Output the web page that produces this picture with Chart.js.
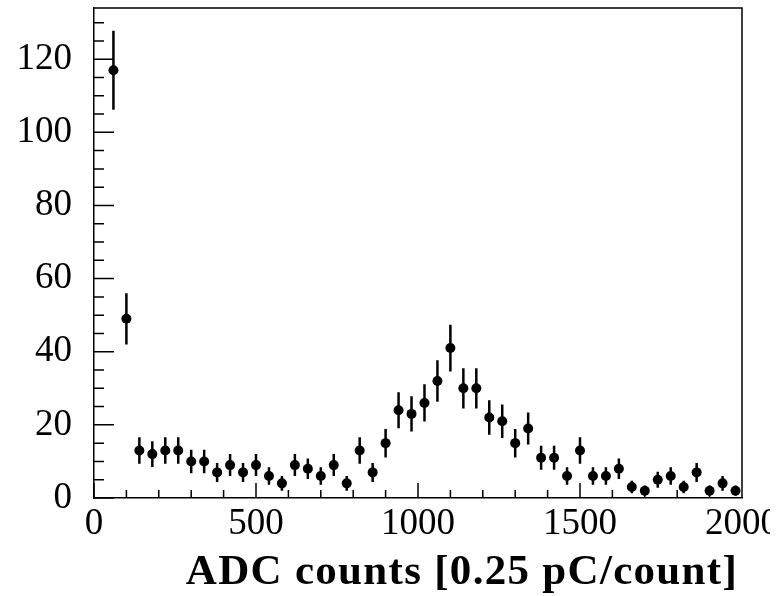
<!DOCTYPE html>
<html>
<head>
<meta charset="utf-8">
<script src="https://cdn.jsdelivr.net/npm/chart.js@4/dist/chart.umd.min.js"></script>
<style>
  html, body { margin: 0; padding: 0; background: #fff; }
  #wrap { width: 780px; height: 596px; }
  canvas { display: block; }
</style>
</head>
<body>
<div id="wrap"><canvas id="myChart" width="770" height="596"></canvas></div>
<script>
// Histogram data: bin centres (ADC counts), entries and their errors
const binCenters = [60, 100, 140, 180, 220, 260, 300, 340, 380, 420,
    460, 500, 540, 580, 620, 660, 700, 740, 780, 820,
    860, 900, 940, 980, 1020, 1060, 1100, 1140, 1180, 1220,
    1260, 1300, 1340, 1380, 1420, 1460, 1500, 1540, 1580, 1620,
    1660, 1700, 1740, 1780, 1820, 1860, 1900, 1940, 1980];
const counts = [117, 49, 13, 12, 13, 13, 10, 10, 7, 9,
    7, 9, 6, 4, 9, 8, 6, 9, 4, 13,
    7, 15, 24, 23, 26, 32, 41, 30, 30, 22,
    21, 15, 19, 11, 11, 6, 13, 6, 6, 8,
    3, 2, 5, 6, 3, 7, 2, 4, 2];
const errors = [10.8, 7.0, 3.6, 3.5, 3.6, 3.6, 3.2, 3.2, 2.6, 3.0,
    2.6, 3.0, 2.4, 2.0, 3.0, 2.8, 2.4, 3.0, 2.0, 3.6,
    2.6, 3.9, 4.9, 4.8, 5.1, 5.7, 6.4, 5.5, 5.5, 4.7,
    4.6, 3.9, 4.4, 3.3, 3.3, 2.4, 3.6, 2.4, 2.4, 2.8,
    1.7, 1.4, 2.2, 2.4, 1.7, 2.6, 1.4, 2.0, 1.4];

// Axis ticks
const xTicks = [0, 500, 1000, 1500, 2000];
const yTicks = [0, 20, 40, 60, 80, 100, 120];
const xTitle = 'ADC counts [0.25 pC/count]';

const serif = "'Liberation Serif', 'Times New Roman', serif";

// Error bars (drawn under the markers)
const errorBars = {
    id: 'errorBars',
    beforeDatasetsDraw(chart) {
        const ctx = chart.ctx;
        const xs = chart.scales.x, ys = chart.scales.y;
        ctx.save();
        ctx.strokeStyle = '#000';
        ctx.lineWidth = 2.5;
        ctx.beginPath();
        for (let i = 0; i < counts.length; i++) {
            const px = xs.getPixelForValue(binCenters[i]);
            ctx.moveTo(px, ys.getPixelForValue(counts[i] - errors[i]));
            ctx.lineTo(px, ys.getPixelForValue(counts[i] + errors[i]));
        }
        ctx.stroke();
        ctx.restore();
    }
};

// ROOT style frame: inside ticks, top/right frame, axis title
const rootFrame = {
    id: 'rootFrame',
    afterDraw(chart) {
        const ctx = chart.ctx;
        const a = chart.chartArea;
        const xs = chart.scales.x, ys = chart.scales.y;
        ctx.save();
        ctx.strokeStyle = '#000';
        ctx.lineWidth = 1.5;
        ctx.beginPath();
        // frame
        ctx.moveTo(a.left, a.top);
        ctx.lineTo(a.right, a.top);
        ctx.lineTo(a.right, a.bottom);
        // y ticks, minor every 5
        for (let v = 0; v <= ys.max; v += 5) {
            const py = ys.getPixelForValue(v);
            const len = v % 20 === 0 ? 20 : 10;
            ctx.moveTo(a.left, py);
            ctx.lineTo(a.left + len, py);
        }
        // x ticks, minor every 100
        for (let v = 0; v <= xs.max; v += 100) {
            const px = xs.getPixelForValue(v);
            const len = v % 500 === 0 ? 15 : 8;
            ctx.moveTo(px, a.bottom);
            ctx.lineTo(px, a.bottom - len);
        }
        ctx.stroke();

        // axis title
        ctx.fillStyle = '#000';
        ctx.font = 'bold 43px ' + serif;
        ctx.textAlign = 'right';
        ctx.textBaseline = 'alphabetic';
        ctx.letterSpacing = '1.3px';
        ctx.fillText(xTitle, a.right - 4, 584);
        ctx.restore();
    }
};

const ctx = document.getElementById('myChart').getContext('2d');

new Chart(ctx, {
    type: 'scatter',
    data: {
        datasets: [{
            label: 'entries',
            data: binCenters.map((x, i) => ({ x: x, y: counts[i] })),
            pointRadius: 5,
            pointBackgroundColor: '#000',
            pointBorderWidth: 0,
            showLine: false
        }]
    },
    options: {
        responsive: false,
        devicePixelRatio: 1,
        animation: false,
        layout: { padding: { top: 8, right: 28, left: 0, bottom: 0 } },
        plugins: {
            legend: { display: false },
            tooltip: { enabled: false }
        },
        scales: {
            x: {
                type: 'linear',
                min: 0,
                max: 2000,
                afterBuildTicks: s => { s.ticks = xTicks.map(v => ({ value: v })); },
                afterFit: s => { s.height = 98; s.paddingLeft = 0; s.paddingRight = 0; },
                grid: { display: false, drawTicks: false },
                border: { display: true, color: '#000', width: 1.5 },
                ticks: {
                    color: '#000',
                    font: { family: serif, size: 37 },
                    padding: 4,
                    maxRotation: 0,
                    autoSkip: false,
                    callback: v => String(v)
                }
            },
            y: {
                type: 'linear',
                min: 0,
                max: 134,
                afterBuildTicks: s => { s.ticks = yTicks.map(v => ({ value: v })); },
                afterFit: s => { s.width = 94; s.paddingTop = 0; s.paddingBottom = 0; },
                grid: { display: false, drawTicks: false },
                border: { display: true, color: '#000', width: 1.5 },
                ticks: {
                    color: '#000',
                    font: { family: serif, size: 37 },
                    padding: 22,
                    autoSkip: false,
                    callback: v => String(v)
                }
            }
        }
    },
    plugins: [errorBars, rootFrame]
});
</script>
</body>
</html>
